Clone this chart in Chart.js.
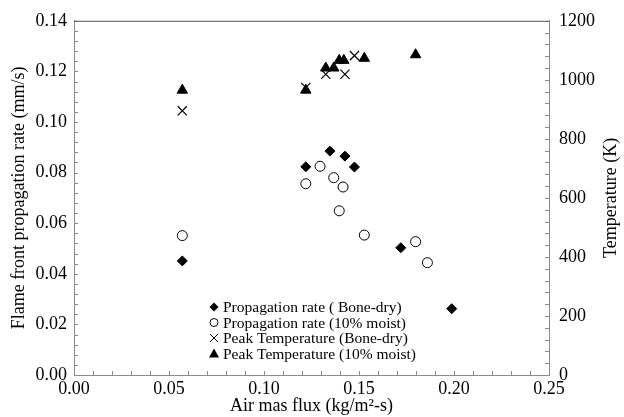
<!DOCTYPE html>
<html>
<head>
<meta charset="utf-8">
<script src="https://cdn.jsdelivr.net/npm/chart.js@4.4.0/dist/chart.umd.min.js"></script>
<style>
  html, body { margin: 0; padding: 0; background: #fff; }
  #wrap { width: 624px; height: 417px; }
</style>
</head>
<body>
<div id="wrap"><canvas id="myChart" width="624" height="417"></canvas></div>
<script>
// values
const rateDryX = [0.057, 0.122, 0.1347, 0.1426, 0.1476, 0.172, 0.1988]
const rateDryY = [0.0451, 0.0823, 0.0885, 0.0865, 0.0822, 0.0503, 0.0262]
const rateMoistX = [0.057, 0.122, 0.1295, 0.1367, 0.1396, 0.1416, 0.1528, 0.1798, 0.186]
const rateMoistY = [0.0551, 0.0756, 0.0825, 0.078, 0.0649, 0.0743, 0.0553, 0.0527, 0.0444]
const tempDryX = [0.057, 0.122, 0.1325, 0.1426, 0.1476]
const tempDryY = [895, 974, 1019, 1019, 1082]
const tempMoistX = [0.057, 0.122, 0.1325, 0.1367, 0.1396, 0.142, 0.1528, 0.1798]
const tempMoistY = [965, 965, 1040, 1040, 1066, 1066, 1073, 1085]

const seriesNames = [
  'Propagation rate ( Bone-dry)',
  'Propagation rate (10% moist)',
  'Peak Temperature (Bone-dry)',
  'Peak Temperature (10% moist)'
]
const rightTitle = 'Temperature (K)'

const FONT = '"Liberation Serif", "Times New Roman", serif'
const axisColor = '#8a8a8a'

function pts(xs, ys) {
  return xs.map((x, i) => ({x: x, y: ys[i]}))
}

// inward minor ticks, top border, right title and the legend inside the plot
const frame = {
  id: 'frame',
  afterDatasetsDraw(chart) {
    const {ctx, chartArea: a, scales} = chart
    ctx.save()
    ctx.strokeStyle = axisColor
    ctx.lineWidth = 1
    ctx.beginPath()
    for (let i = 0; i <= 25; i++) {
      const px = Math.round(scales.x.getPixelForValue(i * 0.01)) + 0.5
      ctx.moveTo(px, a.bottom); ctx.lineTo(px, a.bottom - 4)
    }
    for (let i = 0; i <= 35; i++) {
      const py = Math.round(scales.y.getPixelForValue(i * 0.004)) + 0.5
      ctx.moveTo(a.left, py); ctx.lineTo(a.left + 4, py)
    }
    for (let i = 0; i <= 30; i++) {
      const py = Math.round(scales.y2.getPixelForValue(i * 40)) + 0.5
      ctx.moveTo(a.right, py); ctx.lineTo(a.right - 4, py)
    }
    ctx.stroke()
    ctx.strokeStyle = '#555'
    ctx.beginPath()
    ctx.moveTo(a.left, a.top + 0.5); ctx.lineTo(a.right, a.top + 0.5)
    ctx.stroke()

    // right axis title reads bottom-to-top like the left one
    ctx.save()
    ctx.translate(611, (a.top + a.bottom) / 2)
    ctx.rotate(-Math.PI / 2)
    ctx.fillStyle = '#000'
    ctx.font = '18px ' + FONT
    ctx.textAlign = 'center'
    ctx.textBaseline = 'middle'
    ctx.fillText(rightTitle, 0, 0)
    ctx.restore()

    // legend
    const lx = 214, ly = 307, step = 15.5
    ctx.fillStyle = '#000'
    ctx.strokeStyle = '#000'
    ctx.font = '15.5px ' + FONT
    ctx.textBaseline = 'middle'
    seriesNames.forEach((name, i) => {
      const y = ly + i * step
      ctx.beginPath()
      if (i === 0) {
        ctx.moveTo(lx, y - 4.5); ctx.lineTo(lx + 4.5, y); ctx.lineTo(lx, y + 4.5); ctx.lineTo(lx - 4.5, y)
        ctx.closePath(); ctx.fill()
      } else if (i === 1) {
        ctx.arc(lx, y, 4, 0, Math.PI * 2); ctx.stroke()
      } else if (i === 2) {
        ctx.moveTo(lx - 4, y - 4); ctx.lineTo(lx + 4, y + 4)
        ctx.moveTo(lx + 4, y - 4); ctx.lineTo(lx - 4, y + 4); ctx.stroke()
      } else {
        ctx.moveTo(lx, y - 5); ctx.lineTo(lx + 5, y + 4); ctx.lineTo(lx - 5, y + 4)
        ctx.closePath(); ctx.fill()
      }
      ctx.fillText(name, lx + 9, y + 1)
    })
    ctx.restore()
  }
}

const ctx = document.getElementById('myChart')
new Chart(ctx, {
  type: 'scatter',
  data: {
    datasets: [
      {label: seriesNames[0], data: pts(rateDryX, rateDryY), yAxisID: 'y',
        pointStyle: 'rectRot', radius: 5, backgroundColor: '#000', borderColor: '#000', borderWidth: 1},
      {label: seriesNames[1], data: pts(rateMoistX, rateMoistY), yAxisID: 'y',
        pointStyle: 'circle', radius: 5, backgroundColor: '#fff', borderColor: '#000', borderWidth: 1},
      {label: seriesNames[2], data: pts(tempDryX, tempDryY), yAxisID: 'y2',
        pointStyle: 'crossRot', radius: 6.5, backgroundColor: '#000', borderColor: '#000', borderWidth: 1.2},
      {label: seriesNames[3], data: pts(tempMoistX, tempMoistY), yAxisID: 'y2',
        pointStyle: 'triangle', radius: 6, backgroundColor: '#000', borderColor: '#000', borderWidth: 1}
    ]
  },
  options: {
    responsive: false,
    animation: false,
    layout: {padding: {top: 19, left: 0, right: 0, bottom: 0}},
    plugins: {legend: {display: false}, tooltip: {enabled: false}},
    scales: {
      x: {
        type: 'linear', min: 0, max: 0.25,
        afterFit(s) { s.height = 42 },
        grid: {display: true, drawOnChartArea: false, drawTicks: false},
        border: {color: axisColor, width: 1},
        ticks: {stepSize: 0.05, padding: 3, color: '#000', font: {family: FONT, size: 18},
          callback: v => v.toFixed(2)},
        title: {display: true, text: 'Air mas flux (kg/m²-s)', color: '#000',
          font: {family: FONT, size: 18}, padding: {top: 0, bottom: 0}}
      },
      y: {
        type: 'linear', position: 'left', min: 0, max: 0.14,
        afterFit(s) { s.width = 74 },
        grid: {display: true, drawOnChartArea: false, drawTicks: false},
        border: {color: axisColor, width: 1},
        ticks: {stepSize: 0.02, padding: 7, color: '#000', font: {family: FONT, size: 18},
          callback: v => v.toFixed(2)},
        title: {display: true, text: 'Flame front propagation rate (mm/s)', color: '#000',
          font: {family: FONT, size: 18}, padding: {top: 8, bottom: 0}}
      },
      y2: {
        type: 'linear', position: 'right', min: 0, max: 1200,
        afterFit(s) { s.width = 75 },
        grid: {display: true, drawOnChartArea: false, drawTicks: false},
        border: {color: axisColor, width: 1},
        ticks: {stepSize: 200, padding: 10, color: '#000', font: {family: FONT, size: 18},
          callback: v => Math.round(v)},
        title: {display: false}
      }
    }
  },
  plugins: [frame]
})
</script>
</body>
</html>
